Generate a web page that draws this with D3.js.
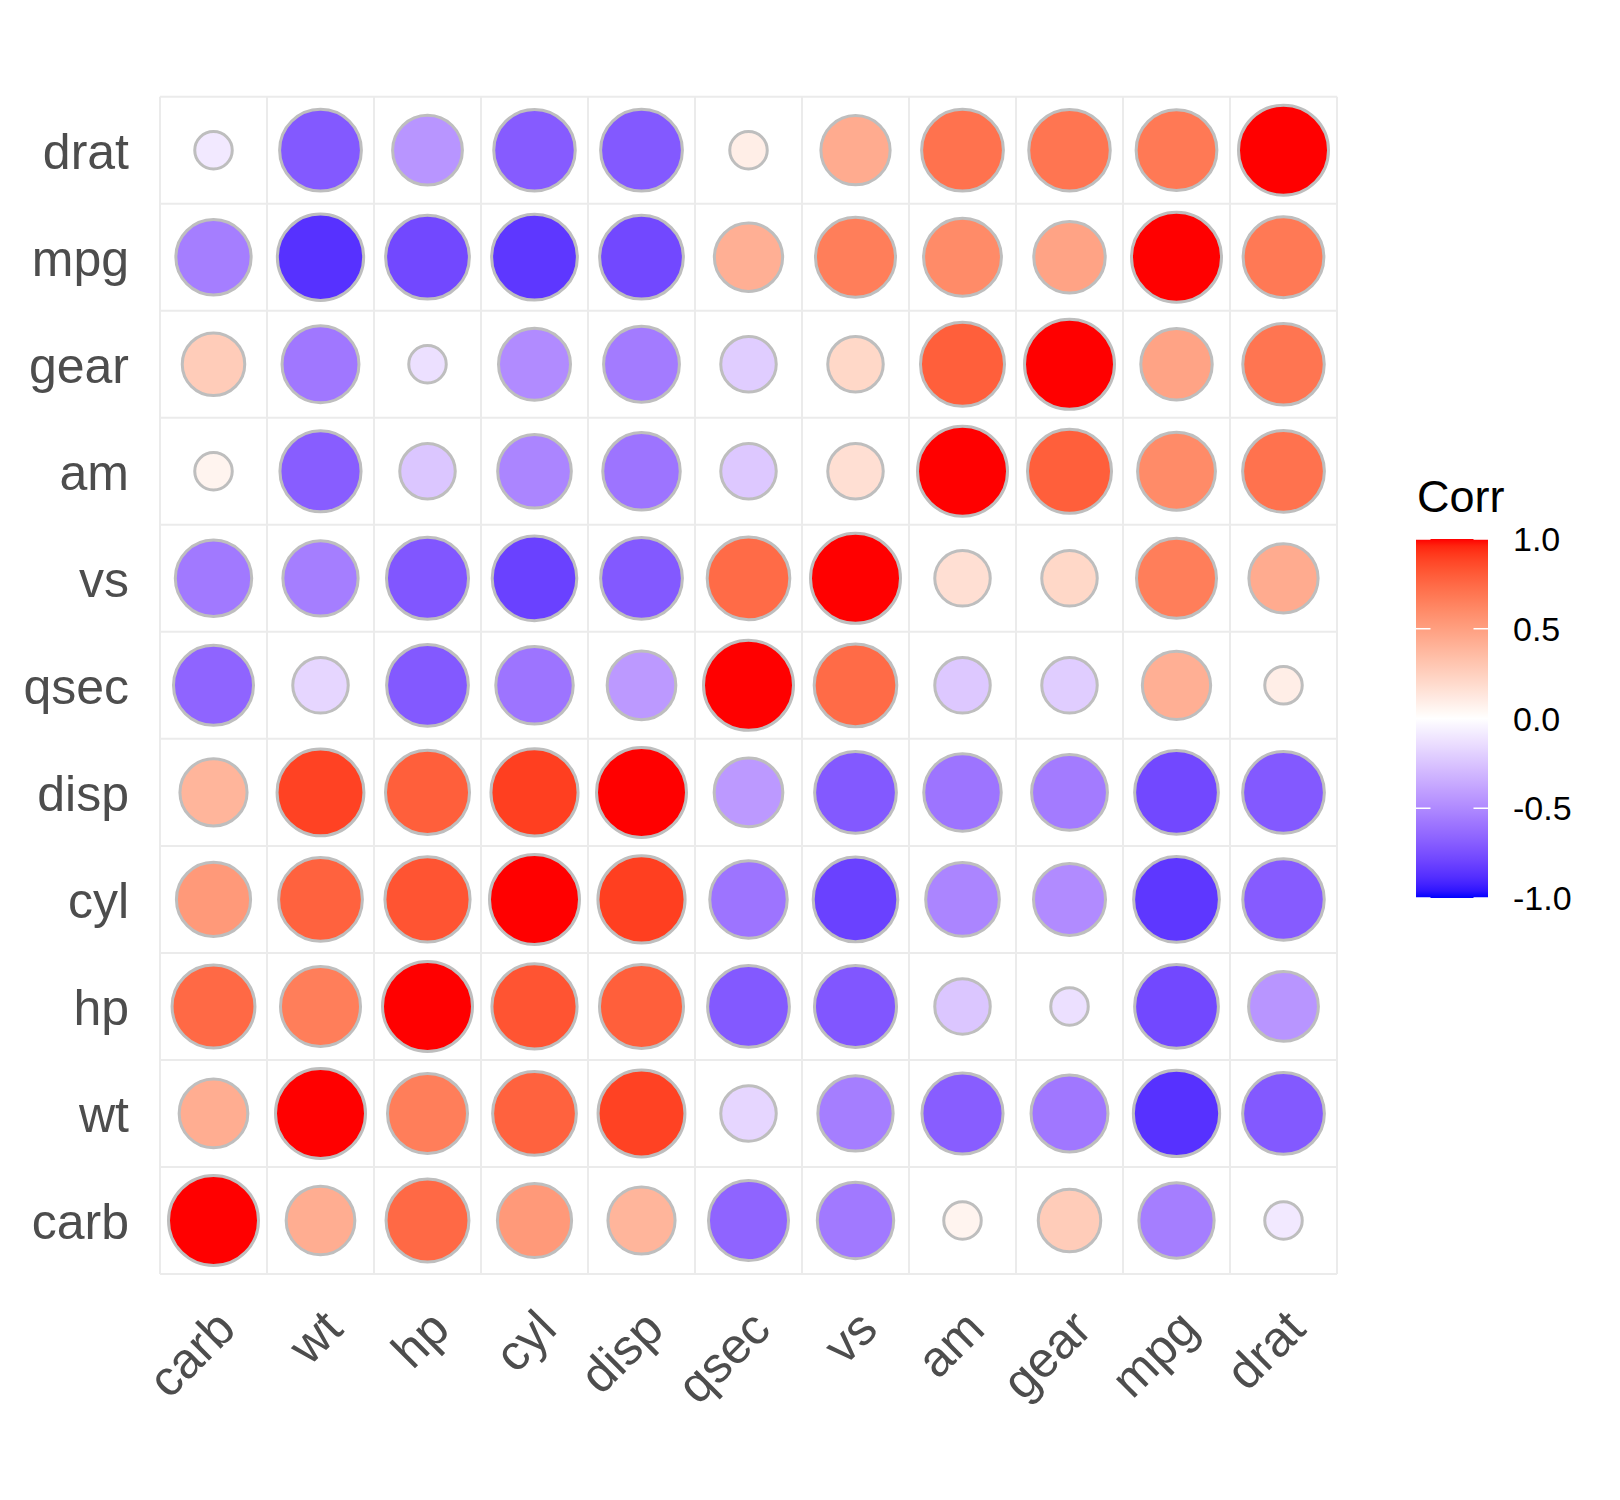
<!DOCTYPE html>
<html>
<head>
<meta charset="utf-8">
<script src="https://cdn.jsdelivr.net/npm/d3@7/dist/d3.min.js"></script>
<style>
  html, body { margin: 0; padding: 0; background: #fff; }
  svg { display: block; }
  text { font-family: "Liberation Sans", Arial, Helvetica, sans-serif; }
</style>
</head>
<body>
<svg id="chart" width="1620" height="1500"></svg>
<script>
// Variable order (hierarchical clustering order), x left->right, y bottom->top
const variables = ["carb", "wt", "hp", "cyl", "disp", "qsec", "vs", "am", "gear", "mpg", "drat"];

// Correlation rows (rounded to 2 digits), columns in the order of `variables`
const carb = [1, 0.43, 0.75, 0.53, 0.39, -0.66, -0.57, 0.06, 0.27, -0.55, -0.09];
const wt   = [0.43, 1, 0.66, 0.78, 0.89, -0.17, -0.55, -0.69, -0.58, -0.87, -0.71];
const hp   = [0.75, 0.66, 1, 0.83, 0.79, -0.71, -0.72, -0.24, -0.13, -0.78, -0.45];
const cyl  = [0.53, 0.78, 0.83, 1, 0.90, -0.59, -0.81, -0.52, -0.49, -0.85, -0.70];
const disp = [0.39, 0.89, 0.79, 0.90, 1, -0.43, -0.71, -0.59, -0.56, -0.78, -0.71];
const qsec = [-0.66, -0.17, -0.71, -0.59, -0.43, 1, 0.74, -0.23, -0.21, 0.42, 0.09];
const vs   = [-0.57, -0.55, -0.72, -0.81, -0.71, 0.74, 1, 0.17, 0.21, 0.66, 0.44];
const am   = [0.06, -0.69, -0.24, -0.52, -0.59, -0.23, 0.17, 1, 0.79, 0.60, 0.71];
const gear = [0.27, -0.58, -0.13, -0.49, -0.56, -0.21, 0.21, 0.79, 1, 0.48, 0.70];
const mpg  = [-0.55, -0.87, -0.78, -0.85, -0.78, 0.42, 0.66, 0.60, 0.48, 1, 0.68];
const drat = [-0.09, -0.71, -0.45, -0.70, -0.71, 0.09, 0.44, 0.71, 0.70, 0.68, 1];

// Legend
const legendTitle = "Corr";
const legendTicks = [1.0, 0.5, 0.0, -0.5, -1.0];

const rows = { carb, wt, hp, cyl, disp, qsec, vs, am, gear, mpg, drat };

// Long-format data built from the arrays above
const cells = [];
variables.forEach((rowVar) => {
  rows[rowVar].forEach((v, j) => {
    cells.push({ x: variables[j], y: rowVar, value: v });
  });
});

const svg = d3.select("#chart");

const panel = { left: 160, right: 1337, top: 96.7, bottom: 1274 };

const x = d3.scaleBand().domain(variables).range([panel.left, panel.right]).padding(0);
const y = d3.scaleBand().domain(variables).range([panel.bottom, panel.top]).padding(0);

const color = d3.scaleLinear()
  .domain([-1, 0, 1])
  .range(["#0000FF", "#FFFFFF", "#FF0000"])
  .interpolate(d3.interpolateLab)
  .clamp(true);

// circle diameter (px, including outline) as a function of |corr|
const diam = d3.scaleLinear()
  .domain([0, 0.14, 0.17, 0.25, 0.27, 0.43, 0.59, 0.7, 1])
  .range([40.5, 40.5, 58.5, 58.5, 65.5, 71.7, 80.5, 84.5, 93])
  .clamp(true);

// Grid lines at cell boundaries
const grid = svg.append("g").attr("class", "grid");
const xb = variables.map(v => x(v)).concat([x.range()[1]]);
grid.selectAll("line.v").data(xb).join("line")
  .attr("class", "v")
  .attr("x1", d => d).attr("x2", d => d)
  .attr("y1", panel.top).attr("y2", panel.bottom)
  .attr("stroke", "#EBEBEB").attr("stroke-width", 2);
const yb = variables.map(v => y(v) + y.bandwidth()).concat([y(variables[variables.length - 1])]);
grid.selectAll("line.h").data(yb).join("line")
  .attr("class", "h")
  .attr("y1", d => d).attr("y2", d => d)
  .attr("x1", panel.left).attr("x2", panel.right)
  .attr("stroke", "#EBEBEB").attr("stroke-width", 2);

// Circles
svg.append("g").selectAll("circle").data(cells).join("circle")
  .attr("cx", d => x(d.x) + x.bandwidth() / 2)
  .attr("cy", d => y(d.y) + y.bandwidth() / 2)
  .attr("r", d => (diam(Math.abs(d.value)) - 3) / 2)
  .attr("fill", d => color(d.value))
  .attr("stroke", "#BEBEBE")
  .attr("stroke-width", 3);

// Y axis
const yAxis = svg.append("g")
  .attr("transform", `translate(${panel.left},0)`)
  .call(d3.axisLeft(y).tickSize(0).tickPadding(31));
yAxis.select(".domain").remove();
yAxis.selectAll("text")
  .attr("fill", "#4D4D4D")
  .attr("font-size", 50)
  .attr("dy", "0.38em")
  .style("font-family", '"Liberation Sans", Arial, Helvetica, sans-serif');

// X axis
const xAxis = svg.append("g")
  .attr("transform", `translate(0,${panel.bottom})`)
  .call(d3.axisBottom(x).tickSize(0));
xAxis.select(".domain").remove();
xAxis.selectAll("text")
  .attr("fill", "#4D4D4D")
  .attr("font-size", 50)
  .attr("x", 0).attr("y", 0)
  .attr("dy", "0.72em")
  .attr("text-anchor", "end")
  .attr("transform", "translate(-1,32) rotate(-45)")
  .style("font-family", '"Liberation Sans", Arial, Helvetica, sans-serif');

// Legend colour bar
const bar = { x: 1416, y: 539, w: 72, h: 359 };
const defs = svg.append("defs");
const grad = defs.append("linearGradient").attr("id", "corrGrad")
  .attr("x1", 0).attr("x2", 0).attr("y1", 1).attr("y2", 0);
d3.range(0, 1.0001, 0.02).forEach(t => {
  grad.append("stop").attr("offset", t).attr("stop-color", color(-1 + 2 * t));
});
const lg = svg.append("g");
lg.append("rect")
  .attr("x", bar.x).attr("y", bar.y).attr("width", bar.w).attr("height", bar.h)
  .attr("fill", "url(#corrGrad)");

const ly = d3.scaleLinear().domain([-1, 1]).range([bar.y + bar.h, bar.y]);
const tl = 14.5;
lg.selectAll("line.tl").data(legendTicks).join("line").attr("class", "tl")
  .attr("x1", bar.x).attr("x2", bar.x + tl)
  .attr("y1", d => ly(d)).attr("y2", d => ly(d))
  .attr("stroke", "#FFFFFF").attr("stroke-width", 1.5);
lg.selectAll("line.tr").data(legendTicks).join("line").attr("class", "tr")
  .attr("x1", bar.x + bar.w - tl).attr("x2", bar.x + bar.w)
  .attr("y1", d => ly(d)).attr("y2", d => ly(d))
  .attr("stroke", "#FFFFFF").attr("stroke-width", 1.5);
lg.selectAll("text.lab").data(legendTicks).join("text").attr("class", "lab")
  .attr("x", 1513)
  .attr("y", d => ly(d))
  .attr("dy", "0.36em")
  .attr("font-size", 34)
  .attr("fill", "#000")
  .text(d => d3.format(".1f")(d).replace("−", "-"));
lg.append("text")
  .attr("x", 1417).attr("y", 512)
  .attr("font-size", 45)
  .attr("fill", "#000")
  .text(legendTitle);
</script>
</body>
</html>
